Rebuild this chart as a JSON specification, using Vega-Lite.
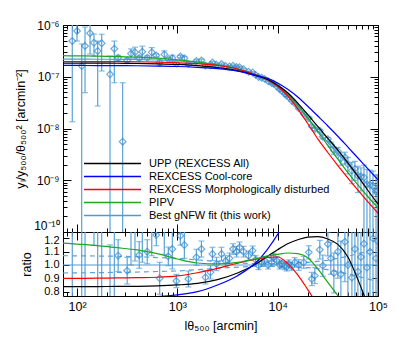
{
"$schema": "https://vega.github.io/schema/vega-lite/v6.json",
"padding": {"left": 14, "top": 18, "right": 5, "bottom": 5},
"datasets": {
"curves": [
{"m":"FIT","x":72.44,"y":2.19e-7},{"m":"FIT","x":100,"y":2.19e-7},{"m":"FIT","x":158.5,"y":2.18e-7},{"m":"FIT","x":251.2,"y":2.173e-7},{"m":"FIT","x":398.1,"y":2.153e-7},{"m":"FIT","x":631,"y":2.109e-7},{"m":"FIT","x":1000,"y":2.032e-7},{"m":"FIT","x":1585,"y":1.897e-7},{"m":"FIT","x":2512,"y":1.69e-7},{"m":"FIT","x":3981,"y":1.396e-7},{"m":"FIT","x":6310,"y":1.012e-7},{"m":"FIT","x":7943,"y":8.318e-8},{"m":"FIT","x":10000,"y":6.166e-8},{"m":"FIT","x":12589,"y":4.217e-8},{"m":"FIT","x":15849,"y":2.6e-8},{"m":"FIT","x":19953,"y":1.531e-8},{"m":"FIT","x":25119,"y":9.016e-9},{"m":"FIT","x":31623,"y":5.37e-9},{"m":"FIT","x":39811,"y":3.311e-9},{"m":"FIT","x":50119,"y":2.042e-9},{"m":"FIT","x":63096,"y":1.288e-9},{"m":"FIT","x":79433,"y":8.128e-10},{"m":"FIT","x":100000,"y":5.248e-10},
{"m":"PIPV","x":72.44,"y":2.549e-7},{"m":"PIPV","x":100,"y":2.532e-7},{"m":"PIPV","x":158.5,"y":2.496e-7},{"m":"PIPV","x":251.2,"y":2.455e-7},{"m":"PIPV","x":398.1,"y":2.396e-7},{"m":"PIPV","x":631,"y":2.288e-7},{"m":"PIPV","x":1000,"y":2.123e-7},{"m":"PIPV","x":1585,"y":1.925e-7},{"m":"PIPV","x":2512,"y":1.704e-7},{"m":"PIPV","x":3981,"y":1.424e-7},{"m":"PIPV","x":6310,"y":1.063e-7},{"m":"PIPV","x":7943,"y":8.884e-8},{"m":"PIPV","x":10000,"y":6.659e-8},{"m":"PIPV","x":12589,"y":4.597e-8},{"m":"PIPV","x":15849,"y":2.821e-8},{"m":"PIPV","x":19953,"y":1.615e-8},{"m":"PIPV","x":25119,"y":8.746e-9},{"m":"PIPV","x":31623,"y":4.672e-9},{"m":"PIPV","x":39811,"y":2.549e-9},{"m":"PIPV","x":50119,"y":1.409e-9},{"m":"PIPV","x":63096,"y":8.11e-10},{"m":"PIPV","x":79433,"y":4.8e-10},{"m":"PIPV","x":100000,"y":2.94e-10},
{"m":"MD","x":72.44,"y":1.969e-7},{"m":"MD","x":100,"y":1.969e-7},{"m":"MD","x":158.5,"y":1.964e-7},{"m":"MD","x":251.2,"y":1.962e-7},{"m":"MD","x":398.1,"y":1.948e-7},{"m":"MD","x":631,"y":1.915e-7},{"m":"MD","x":1000,"y":1.865e-7},{"m":"MD","x":1585,"y":1.787e-7},{"m":"MD","x":2512,"y":1.648e-7},{"m":"MD","x":3981,"y":1.414e-7},{"m":"MD","x":6310,"y":1.058e-7},{"m":"MD","x":7943,"y":8.8e-8},{"m":"MD","x":10000,"y":6.536e-8},{"m":"MD","x":12589,"y":4.268e-8},{"m":"MD","x":15849,"y":2.405e-8},{"m":"MD","x":19953,"y":1.248e-8},{"m":"MD","x":25119,"y":6.311e-9},{"m":"MD","x":31623,"y":3.437e-9},{"m":"MD","x":39811,"y":1.92e-9},{"m":"MD","x":50119,"y":1.103e-9},{"m":"MD","x":63096,"y":6.44e-10},{"m":"MD","x":79433,"y":3.82e-10},{"m":"MD","x":100000,"y":2.31e-10},
{"m":"UPP","x":72.44,"y":1.831e-7},{"m":"UPP","x":100,"y":1.831e-7},{"m":"UPP","x":158.5,"y":1.827e-7},{"m":"UPP","x":251.2,"y":1.823e-7},{"m":"UPP","x":398.1,"y":1.809e-7},{"m":"UPP","x":631,"y":1.778e-7},{"m":"UPP","x":1000,"y":1.727e-7},{"m":"UPP","x":1585,"y":1.635e-7},{"m":"UPP","x":2512,"y":1.504e-7},{"m":"UPP","x":3981,"y":1.312e-7},{"m":"UPP","x":6310,"y":1.027e-7},{"m":"UPP","x":7943,"y":8.859e-8},{"m":"UPP","x":10000,"y":6.875e-8},{"m":"UPP","x":12589,"y":4.892e-8},{"m":"UPP","x":15849,"y":3.094e-8},{"m":"UPP","x":19953,"y":1.853e-8},{"m":"UPP","x":25119,"y":1.094e-8},{"m":"UPP","x":31623,"y":6.417e-9},{"m":"UPP","x":39811,"y":3.824e-9},{"m":"UPP","x":50119,"y":2.165e-9},{"m":"UPP","x":63096,"y":1.185e-9},{"m":"UPP","x":79433,"y":6.34e-10},{"m":"UPP","x":100000,"y":3.46e-10},
{"m":"CC","x":72.44,"y":1.652e-7},{"m":"CC","x":100,"y":1.652e-7},{"m":"CC","x":158.5,"y":1.646e-7},{"m":"CC","x":251.2,"y":1.643e-7},{"m":"CC","x":398.1,"y":1.632e-7},{"m":"CC","x":631,"y":1.609e-7},{"m":"CC","x":1000,"y":1.577e-7},{"m":"CC","x":1585,"y":1.518e-7},{"m":"CC","x":2512,"y":1.437e-7},{"m":"CC","x":3981,"y":1.284e-7},{"m":"CC","x":6310,"y":1.042e-7},{"m":"CC","x":7943,"y":9.316e-8},{"m":"CC","x":10000,"y":7.584e-8},{"m":"CC","x":12589,"y":5.735e-8},{"m":"CC","x":15849,"y":4.07e-8},{"m":"CC","x":19953,"y":2.69e-8},{"m":"CC","x":25119,"y":1.74e-8},{"m":"CC","x":31623,"y":1.12e-8},{"m":"CC","x":39811,"y":7.08e-9},{"m":"CC","x":50119,"y":4.37e-9},{"m":"CC","x":63096,"y":2.69e-9},{"m":"CC","x":79433,"y":1.66e-9},{"m":"CC","x":100000,"y":1.02e-9}
],
"rcurves": [
{"m":"FIT","x":72.44,"r":1.0},{"m":"FIT","x":100000,"r":1.0},
{"m":"UPP","x":72.44,"r":0.837},{"m":"UPP","x":100,"r":0.837},{"m":"UPP","x":158.5,"r":0.838},{"m":"UPP","x":251.2,"r":0.839},{"m":"UPP","x":398.1,"r":0.84},{"m":"UPP","x":631,"r":0.843},{"m":"UPP","x":1000,"r":0.85},{"m":"UPP","x":1585,"r":0.862},{"m":"UPP","x":2512,"r":0.89},{"m":"UPP","x":3981,"r":0.94},{"m":"UPP","x":6310,"r":1.015},{"m":"UPP","x":7943,"r":1.065},{"m":"UPP","x":10000,"r":1.115},{"m":"UPP","x":12589,"r":1.16},{"m":"UPP","x":15849,"r":1.19},{"m":"UPP","x":19953,"r":1.21},{"m":"UPP","x":25119,"r":1.213},{"m":"UPP","x":31623,"r":1.195},{"m":"UPP","x":39811,"r":1.155},{"m":"UPP","x":50119,"r":1.06},{"m":"UPP","x":63096,"r":0.89},{"m":"UPP","x":79433,"r":0.7},{"m":"UPP","x":100000,"r":0.55},
{"m":"CC","x":72.44,"r":0.755},{"m":"CC","x":100,"r":0.755},{"m":"CC","x":158.5,"r":0.755},{"m":"CC","x":251.2,"r":0.756},{"m":"CC","x":398.1,"r":0.758},{"m":"CC","x":631,"r":0.763},{"m":"CC","x":1000,"r":0.776},{"m":"CC","x":1585,"r":0.8},{"m":"CC","x":2512,"r":0.85},{"m":"CC","x":3981,"r":0.92},{"m":"CC","x":6310,"r":1.03},{"m":"CC","x":7943,"r":1.12},{"m":"CC","x":10000,"r":1.23},{"m":"CC","x":12589,"r":1.36},
{"m":"MD","x":72.44,"r":0.9},{"m":"MD","x":100,"r":0.9},{"m":"MD","x":158.5,"r":0.901},{"m":"MD","x":251.2,"r":0.903},{"m":"MD","x":398.1,"r":0.905},{"m":"MD","x":631,"r":0.908},{"m":"MD","x":1000,"r":0.918},{"m":"MD","x":1585,"r":0.942},{"m":"MD","x":2512,"r":0.975},{"m":"MD","x":3981,"r":1.013},{"m":"MD","x":6310,"r":1.045},{"m":"MD","x":7943,"r":1.058},{"m":"MD","x":10000,"r":1.06},{"m":"MD","x":12589,"r":1.012},{"m":"MD","x":15849,"r":0.925},{"m":"MD","x":19953,"r":0.815},{"m":"MD","x":25119,"r":0.7},{"m":"MD","x":31623,"r":0.6},
{"m":"PIPV","x":72.44,"r":1.165},{"m":"PIPV","x":100,"r":1.157},{"m":"PIPV","x":158.5,"r":1.145},{"m":"PIPV","x":251.2,"r":1.13},{"m":"PIPV","x":398.1,"r":1.113},{"m":"PIPV","x":631,"r":1.085},{"m":"PIPV","x":1000,"r":1.045},{"m":"PIPV","x":1585,"r":1.015},{"m":"PIPV","x":2512,"r":1.008},{"m":"PIPV","x":3981,"r":1.02},{"m":"PIPV","x":6310,"r":1.05},{"m":"PIPV","x":7943,"r":1.068},{"m":"PIPV","x":10000,"r":1.08},{"m":"PIPV","x":12589,"r":1.09},{"m":"PIPV","x":15849,"r":1.085},{"m":"PIPV","x":19953,"r":1.055},{"m":"PIPV","x":25119,"r":0.97},{"m":"PIPV","x":31623,"r":0.87},{"m":"PIPV","x":39811,"r":0.77},{"m":"PIPV","x":50119,"r":0.67}
],
"band": [
{"s":"u","x":72.44,"r":1.07},{"s":"u","x":316.2,"r":1.065},{"s":"u","x":1000,"r":1.05},{"s":"u","x":3162,"r":1.02},{"s":"u","x":6310,"r":1.008},{"s":"u","x":10000,"r":1.01},{"s":"u","x":19953,"r":1.02},{"s":"u","x":31623,"r":1.035},{"s":"u","x":50119,"r":1.065},{"s":"u","x":70795,"r":1.095},{"s":"u","x":100000,"r":1.13},
{"s":"l","x":72.44,"r":0.94},{"s":"l","x":316.2,"r":0.945},{"s":"l","x":1000,"r":0.955},{"s":"l","x":3162,"r":0.98},{"s":"l","x":6310,"r":0.992},{"s":"l","x":10000,"r":0.99},{"s":"l","x":19953,"r":0.98},{"s":"l","x":31623,"r":0.965},{"s":"l","x":50119,"r":0.935},{"s":"l","x":70795,"r":0.905},{"s":"l","x":100000,"r":0.875}
],
"pts": [
{"x":89.7,"y":4.91e-7,"ylo":1.35e-8,"yhi":3e-6,"r":2.244,"rlo":0.062,"rhi":14},
{"x":100,"y":7.66e-7,"ylo":4.9e-7,"yhi":1.26e-6,"r":3.5,"rlo":2.24,"rhi":5.75},
{"x":111.4,"y":1.614e-7,"ylo":1e-12,"yhi":4.3e-7,"r":0.738,"rlo":0.01,"rhi":1.963},
{"x":120.2,"y":3.93e-7,"ylo":4.92e-8,"yhi":9.12e-7,"r":1.795,"rlo":0.225,"rhi":4.17},
{"x":134.9,"y":6.92e-7,"ylo":2.75e-7,"yhi":1.26e-6,"r":3.16,"rlo":1.26,"rhi":5.75},
{"x":147.6,"y":4.55e-7,"ylo":2.51e-7,"yhi":6.7e-7,"r":2.08,"rlo":1.148,"rhi":3.06},
{"x":160.7,"y":3.15e-7,"ylo":2.72e-8,"yhi":4.9e-7,"r":1.439,"rlo":0.1245,"rhi":2.24},
{"x":176.2,"y":4.43e-7,"ylo":1.29e-7,"yhi":6.61e-7,"r":2.023,"rlo":0.59,"rhi":3.0},
{"x":213.3,"y":1.114e-7,"ylo":1e-12,"yhi":2.51e-7,"r":0.51,"rlo":0.01,"rhi":1.151},
{"x":235.5,"y":3.48e-7,"ylo":7.67e-8,"yhi":4.9e-7,"r":1.6,"rlo":0.352,"rhi":2.24},
{"x":285.1,"y":5.56e-9,"ylo":1e-12,"yhi":7.67e-8,"r":0.0256,"rlo":0.01,"rhi":0.353},
{"x":257.0,"y":2.324e-7,"ylo":2.063e-7,"yhi":2.585e-7,"r":1.07,"rlo":0.95,"rhi":1.19},
{"x":316.2,"y":2.070e-7,"ylo":1.854e-7,"yhi":2.286e-7,"r":0.957,"rlo":0.857,"rhi":1.057},
{"x":345.1,"y":2.807e-7,"ylo":2.159e-7,"yhi":3.454e-7,"r":1.30,"rlo":1.0,"rhi":1.6},
{"x":378.4,"y":2.974e-7,"ylo":2.220e-7,"yhi":3.728e-7,"r":1.38,"rlo":1.03,"rhi":1.73},
{"x":416.9,"y":2.309e-7,"ylo":2.094e-7,"yhi":2.524e-7,"r":1.075,"rlo":0.975,"rhi":1.175},
{"x":447.7,"y":3.040e-7,"ylo":2.184e-7,"yhi":3.897e-7,"r":1.42,"rlo":1.02,"rhi":1.82},
{"x":501.2,"y":2.343e-7,"ylo":2.151e-7,"yhi":2.535e-7,"r":1.10,"rlo":1.01,"rhi":1.19},
{"x":555.9,"y":2.968e-7,"ylo":2.268e-7,"yhi":3.668e-7,"r":1.40,"rlo":1.07,"rhi":1.73},
{"x":616.6,"y":2.585e-7,"ylo":2.416e-7,"yhi":2.754e-7,"r":1.225,"rlo":1.145,"rhi":1.305},
{"x":666.8,"y":1.889e-7,"ylo":1.637e-7,"yhi":2.141e-7,"r":0.90,"rlo":0.78,"rhi":1.02},
{"x":741.3,"y":2.707e-7,"ylo":2.249e-7,"yhi":3.165e-7,"r":1.30,"rlo":1.08,"rhi":1.52},
{"x":812.8,"y":2.200e-7,"ylo":2.056e-7,"yhi":2.345e-7,"r":1.065,"rlo":0.995,"rhi":1.135},
{"x":891.3,"y":2.297e-7,"ylo":1.989e-7,"yhi":2.605e-7,"r":1.12,"rlo":0.97,"rhi":1.27},
{"x":977.2,"y":1.792e-7,"ylo":1.690e-7,"yhi":1.893e-7,"r":0.88,"rlo":0.83,"rhi":0.93},
{"x":1071.5,"y":2.455e-7,"ylo":2.314e-7,"yhi":2.595e-7,"r":1.22,"rlo":1.15,"rhi":1.29},
{"x":1174.9,"y":2.282e-7,"ylo":2.083e-7,"yhi":2.480e-7,"r":1.15,"rlo":1.05,"rhi":1.25},
{"x":1288.2,"y":1.752e-7,"ylo":1.634e-7,"yhi":1.869e-7,"r":0.895,"rlo":0.835,"rhi":0.955},
{"x":1548.8,"y":2.013e-7,"ylo":1.899e-7,"yhi":2.128e-7,"r":1.058,"rlo":0.998,"rhi":1.118},
{"x":1737.8,"y":2.076e-7,"ylo":1.965e-7,"yhi":2.188e-7,"r":1.12,"rlo":1.06,"rhi":1.18},
{"x":1905.5,"y":1.643e-7,"ylo":1.552e-7,"yhi":1.733e-7,"r":0.907,"rlo":0.857,"rhi":0.957},
{"x":2138.0,"y":1.663e-7,"ylo":1.575e-7,"yhi":1.751e-7,"r":0.945,"rlo":0.895,"rhi":0.995},
{"x":2238.7,"y":1.884e-7,"ylo":1.797e-7,"yhi":1.971e-7,"r":1.083,"rlo":1.033,"rhi":1.133},
{"x":2454.7,"y":1.715e-7,"ylo":1.630e-7,"yhi":1.800e-7,"r":1.008,"rlo":0.958,"rhi":1.058},
{"x":2754.2,"y":1.762e-7,"ylo":1.681e-7,"yhi":1.843e-7,"r":1.083,"rlo":1.033,"rhi":1.133},
{"x":3020.0,"y":1.613e-7,"ylo":1.550e-7,"yhi":1.676e-7,"r":1.03,"rlo":0.99,"rhi":1.07},
{"x":3311.3,"y":1.582e-7,"ylo":1.522e-7,"yhi":1.643e-7,"r":1.05,"rlo":1.01,"rhi":1.09},
{"x":3589.2,"y":1.633e-7,"ylo":1.575e-7,"yhi":1.691e-7,"r":1.12,"rlo":1.08,"rhi":1.16},
{"x":3890.5,"y":1.551e-7,"ylo":1.495e-7,"yhi":1.607e-7,"r":1.10,"rlo":1.06,"rhi":1.14},
{"x":4168.7,"y":1.532e-7,"ylo":1.478e-7,"yhi":1.586e-7,"r":1.133,"rlo":1.093,"rhi":1.173},
{"x":4570.9,"y":1.395e-7,"ylo":1.344e-7,"yhi":1.446e-7,"r":1.10,"rlo":1.06,"rhi":1.14},
{"x":5128.6,"y":1.251e-7,"ylo":1.210e-7,"yhi":1.292e-7,"r":1.07,"rlo":1.035,"rhi":1.105},
{"x":5623.4,"y":1.214e-7,"ylo":1.176e-7,"yhi":1.253e-7,"r":1.108,"rlo":1.073,"rhi":1.143},
{"x":6025.6,"y":1.087e-7,"ylo":1.055e-7,"yhi":1.118e-7,"r":1.04,"rlo":1.01,"rhi":1.07},
{"x":6456.5,"y":9.870e-8,"ylo":9.573e-8,"yhi":1.017e-7,"r":0.995,"rlo":0.965,"rhi":1.025},
{"x":6918.3,"y":9.541e-8,"ylo":9.260e-8,"yhi":9.822e-8,"r":1.02,"rlo":0.99,"rhi":1.05},
{"x":7413.1,"y":9.113e-8,"ylo":8.848e-8,"yhi":9.378e-8,"r":1.033,"rlo":1.003,"rhi":1.063},
{"x":8035.3,"y":8.195e-8,"ylo":7.949e-8,"yhi":8.441e-8,"r":1.0,"rlo":0.97,"rhi":1.03},
{"x":8709.6,"y":7.527e-8,"ylo":7.305e-8,"yhi":7.748e-8,"r":1.02,"rlo":0.99,"rhi":1.05},
{"x":9120.1,"y":7.353e-8,"ylo":7.145e-8,"yhi":7.562e-8,"r":1.058,"rlo":1.028,"rhi":1.088},
{"x":9772.4,"y":6.563e-8,"ylo":6.372e-8,"yhi":6.753e-8,"r":1.033,"rlo":1.003,"rhi":1.063},
{"x":10471,"y":5.715e-8,"ylo":5.544e-8,"yhi":5.886e-8,"r":1.0,"rlo":0.97,"rhi":1.03},
{"x":10965,"y":5.339e-8,"ylo":5.180e-8,"yhi":5.498e-8,"r":1.008,"rlo":0.978,"rhi":1.038},
{"x":11749,"y":4.702e-8,"ylo":4.561e-8,"yhi":4.844e-8,"r":0.995,"rlo":0.965,"rhi":1.025},
{"x":12303,"y":4.314e-8,"ylo":4.183e-8,"yhi":4.446e-8,"r":0.985,"rlo":0.955,"rhi":1.015},
{"x":12882,"y":4.050e-8,"ylo":3.930e-8,"yhi":4.171e-8,"r":1.008,"rlo":0.978,"rhi":1.038},
{"x":13804,"y":3.440e-8,"ylo":3.336e-8,"yhi":3.545e-8,"r":0.99,"rlo":0.96,"rhi":1.02},
{"x":14791,"y":3.066e-8,"ylo":2.961e-8,"yhi":3.171e-8,"r":1.02,"rlo":0.985,"rhi":1.055},
{"x":16218,"y":2.466e-8,"ylo":2.367e-8,"yhi":2.565e-8,"r":1.0,"rlo":0.96,"rhi":1.04},
{"x":18197,"y":1.930e-8,"ylo":1.845e-8,"yhi":2.015e-8,"r":1.02,"rlo":0.975,"rhi":1.065},
{"x":20417,"y":1.590e-8,"ylo":1.517e-8,"yhi":1.663e-8,"r":1.095,"rlo":1.045,"rhi":1.145},
{"x":21878,"y":1.109e-8,"ylo":1.047e-8,"yhi":1.171e-8,"r":0.895,"rlo":0.845,"rhi":0.945},
{"x":23442,"y":9.724e-9,"ylo":9.090e-9,"yhi":1.036e-8,"r":0.92,"rlo":0.86,"rhi":0.98},
{"x":26303,"y":9.063e-9,"ylo":8.494e-9,"yhi":9.632e-9,"r":1.115,"rlo":1.045,"rhi":1.185},
{"x":28184,"y":6.924e-9,"ylo":6.367e-9,"yhi":7.481e-9,"r":0.995,"rlo":0.915,"rhi":1.075},
{"x":31623,"y":6.218e-9,"ylo":5.735e-9,"yhi":6.702e-9,"r":1.158,"rlo":1.068,"rhi":1.248},
{"x":33884,"y":4.877e-9,"ylo":4.320e-9,"yhi":5.435e-9,"r":1.05,"rlo":0.93,"rhi":1.17},
{"x":36308,"y":3.777e-9,"ylo":3.174e-9,"yhi":4.380e-9,"r":0.94,"rlo":0.79,"rhi":1.09},
{"x":39811,"y":3.642e-9,"ylo":2.980e-9,"yhi":4.304e-9,"r":1.10,"rlo":0.90,"rhi":1.30},
{"x":42658,"y":2.664e-9,"ylo":1.948e-9,"yhi":3.380e-9,"r":0.93,"rlo":0.68,"rhi":1.18},
{"x":46774,"y":2.773e-9,"ylo":2.065e-9,"yhi":3.481e-9,"r":1.175,"rlo":0.875,"rhi":1.475},
{"x":50119,"y":2.042e-9,"ylo":1.327e-9,"yhi":2.757e-9,"r":1.0,"rlo":0.65,"rhi":1.35},
{"x":54954,"y":1.537e-9,"ylo":8.575e-10,"yhi":2.216e-9,"r":0.905,"rlo":0.505,"rhi":1.305},
{"x":58884,"y":1.656e-9,"ylo":9.909e-10,"yhi":2.322e-9,"r":1.12,"rlo":0.67,"rhi":1.57},
{"x":63096,"y":1.224e-9,"ylo":5.796e-10,"yhi":1.868e-9,"r":0.95,"rlo":0.45,"rhi":1.45},
{"x":67608,"y":1.189e-9,"ylo":6.171e-10,"yhi":1.739e-9,"r":1.06,"rlo":0.55,"rhi":1.55},
{"x":72444,"y":1.134e-9,"ylo":1e-11,"yhi":1.954e-9,"r":1.16,"rlo":0.01,"rhi":2.0},
{"x":77625,"y":8.341e-10,"ylo":1e-11,"yhi":1.617e-9,"r":0.98,"rlo":0.01,"rhi":1.9},
{"x":83176,"y":8.192e-10,"ylo":1e-11,"yhi":1.564e-9,"r":1.10,"rlo":0.01,"rhi":2.1},
{"x":89125,"y":7.837e-10,"ylo":1e-11,"yhi":1.502e-9,"r":1.20,"rlo":0.01,"rhi":2.3},
{"x":95499,"y":6.014e-10,"ylo":1e-11,"yhi":1.260e-9,"r":1.05,"rlo":0.01,"rhi":2.2},
{"x":98855,"y":6.330e-10,"ylo":1e-11,"yhi":1.287e-9,"r":1.18,"rlo":0.01,"rhi":2.4}
]
},
"vconcat": [
{
"width": 315, "height": 207,
"layer": [
{"data": {"name": "pts"},
 "mark": {"type": "errorbar", "ticks": {"size": 6}, "color": "#5aa2d8", "thickness": 1.2, "clip": true},
 "encoding": {
  "x": {"field": "x", "type": "quantitative", "scale": {"type": "log", "domain": [72.5, 100000], "nice": false}, "axis": null},
  "y": {"field": "ylo", "type": "quantitative", "scale": {"type": "log", "domain": [1e-10, 1e-6], "nice": false}, "axis": null},
  "y2": {"field": "yhi"}
 }},
{"data": {"name": "pts"},
 "mark": {"type": "point", "shape": "diamond", "filled": false, "size": 45, "strokeWidth": 1.2, "color": "#3388cc", "clip": true},
 "encoding": {
  "x": {"field": "x", "type": "quantitative", "scale": {"type": "log", "domain": [72.5, 100000], "nice": false},
        "axis": {"orient": "top", "values": [80,90,100,200,300,400,500,600,700,800,900,1000,2000,3000,4000,5000,6000,7000,8000,9000,10000,20000,30000,40000,50000,60000,70000,80000,90000,100000], "labels": false, "title": null,
                 "tickSize": {"condition": {"test": "datum.value==100||datum.value==1000||datum.value==10000||datum.value==100000", "value": -8}, "value": -4}}},
  "y": {"field": "y", "type": "quantitative", "scale": {"type": "log", "domain": [1e-10, 1e-6], "nice": false},
        "axis": {"orient": "right", "values": [1e-10,2e-10,3e-10,4e-10,5e-10,6e-10,7e-10,8e-10,9e-10,1e-9,2e-9,3e-9,4e-9,5e-9,6e-9,7e-9,8e-9,9e-9,1e-8,2e-8,3e-8,4e-8,5e-8,6e-8,7e-8,8e-8,9e-8,1e-7,2e-7,3e-7,4e-7,5e-7,6e-7,7e-7,8e-7,9e-7,1e-6], "labels": false, "title": null,
                 "tickSize": {"condition": {"test": "datum.value==1e-6||datum.value==1e-7||datum.value==1e-8||datum.value==1e-9||datum.value==1e-10", "value": -8}, "value": -4}}}
 }},
{"data": {"name": "curves"},
 "mark": {"type": "line", "strokeWidth": 1.2, "clip": true, "interpolate": "monotone"},
 "encoding": {
  "x": {"field": "x", "type": "quantitative", "scale": {"type": "log", "domain": [72.5, 100000], "nice": false},
        "axis": {"orient": "bottom", "values": [80,90,100,200,300,400,500,600,700,800,900,1000,2000,3000,4000,5000,6000,7000,8000,9000,10000,20000,30000,40000,50000,60000,70000,80000,90000,100000], "labels": false, "title": null,
                 "tickSize": {"condition": {"test": "datum.value==100||datum.value==1000||datum.value==10000||datum.value==100000", "value": -8}, "value": -4}}},
  "y": {"field": "y", "type": "quantitative", "scale": {"type": "log", "domain": [1e-10, 1e-6], "nice": false},
        "axis": {"orient": "left", "values": [1e-10,2e-10,3e-10,4e-10,5e-10,6e-10,7e-10,8e-10,9e-10,1e-9,2e-9,3e-9,4e-9,5e-9,6e-9,7e-9,8e-9,9e-9,1e-8,2e-8,3e-8,4e-8,5e-8,6e-8,7e-8,8e-8,9e-8,1e-7,2e-7,3e-7,4e-7,5e-7,6e-7,7e-7,8e-7,9e-7,1e-6],
                 "labelExpr": "datum.value==1e-6?'10⁻⁶':datum.value==1e-7?'10⁻⁷':datum.value==1e-8?'10⁻⁸':datum.value==1e-9?'10⁻⁹':datum.value==1e-10?'10⁻¹⁰':''",
                 "labelPadding": 12, "labelFlush": false, "labelOverlap": false, "labelFontSize": 12,
                 "labelOffset": {"condition": {"test": "datum.value==1e-10", "value": -7}, "value": 0},
                 "title": "yₗ/y₅₀₀/θ₅₀₀² [arcmin⁻²]", "titlePadding": 6,
                 "tickSize": {"condition": {"test": "datum.value==1e-6||datum.value==1e-7||datum.value==1e-8||datum.value==1e-9||datum.value==1e-10", "value": -8}, "value": -4}}},
  "color": {"field": "m", "type": "nominal",
            "scale": {"domain": ["UPP","CC","MD","PIPV","FIT"], "range": ["#000000","#0000ff","#ff0000","#1fa51f","#4f9ad4"]},
            "legend": {"orient": "none", "legendX": 20, "legendY": 133, "title": null, "symbolType": "stroke", "symbolSize": 3249, "symbolStrokeWidth": 1.3, "clipHeight": 11, "rowPadding": 1, "padding": 0, "labelFontSize": 11, "labelFont": "Liberation Sans", "labelColor": "#000", "labelOffset": 7, "labelLimit": 300,
                       "labelExpr": "datum.label=='UPP'?'UPP (REXCESS All)':datum.label=='CC'?'REXCESS Cool-core':datum.label=='MD'?'REXCESS Morphologically disturbed':datum.label=='PIPV'?'PIPV':'Best gNFW fit (this work)'"}}
 }}
],
"resolve": {"axis": {"x": "independent", "y": "independent"}}
},
{
"width": 315, "height": 64,
"layer": [
{"data": {"name": "band"},
 "mark": {"type": "line", "strokeDash": [5, 4], "color": "#5aa2d8", "strokeWidth": 1.2, "clip": true},
 "encoding": {
  "x": {"field": "x", "type": "quantitative", "scale": {"type": "log", "domain": [72.5, 100000], "nice": false}, "axis": null},
  "y": {"field": "r", "type": "quantitative", "scale": {"domain": [0.767, 1.248], "nice": false, "zero": false}, "axis": null},
  "detail": {"field": "s"}
 }},
{"data": {"name": "pts"},
 "mark": {"type": "errorbar", "ticks": {"size": 6}, "color": "#5aa2d8", "thickness": 1.2, "clip": true},
 "encoding": {
  "x": {"field": "x", "type": "quantitative", "scale": {"type": "log", "domain": [72.5, 100000], "nice": false}, "axis": null},
  "y": {"field": "rlo", "type": "quantitative", "scale": {"domain": [0.767, 1.248], "nice": false, "zero": false}, "axis": null},
  "y2": {"field": "rhi"}
 }},
{"data": {"name": "pts"},
 "mark": {"type": "point", "shape": "diamond", "filled": false, "size": 45, "strokeWidth": 1.2, "color": "#3388cc", "clip": true},
 "encoding": {
  "x": {"field": "x", "type": "quantitative", "scale": {"type": "log", "domain": [72.5, 100000], "nice": false},
        "axis": {"orient": "top", "values": [80,90,100,200,300,400,500,600,700,800,900,1000,2000,3000,4000,5000,6000,7000,8000,9000,10000,20000,30000,40000,50000,60000,70000,80000,90000,100000], "labels": false, "title": null,
                 "tickSize": {"condition": {"test": "datum.value==100||datum.value==1000||datum.value==10000||datum.value==100000", "value": -8}, "value": -4}}},
  "y": {"field": "r", "type": "quantitative", "scale": {"domain": [0.767, 1.248], "nice": false, "zero": false},
        "axis": {"orient": "right", "values": [0.8, 0.9, 1.0, 1.1, 1.2], "labels": false, "title": null, "tickSize": -6}}
 }},
{"data": {"name": "rcurves"},
 "mark": {"type": "line", "strokeWidth": 1.2, "clip": true, "interpolate": "monotone"},
 "encoding": {
  "x": {"field": "x", "type": "quantitative", "scale": {"type": "log", "domain": [72.5, 100000], "nice": false},
        "axis": {"orient": "bottom", "values": [80,90,100,200,300,400,500,600,700,800,900,1000,2000,3000,4000,5000,6000,7000,8000,9000,10000,20000,30000,40000,50000,60000,70000,80000,90000,100000],
                 "labelExpr": "datum.value==100?'10²':datum.value==1000?'10³':datum.value==10000?'10⁴':datum.value==100000?'10⁵':''",
                 "labelPadding": 12, "labelFlush": false, "labelOverlap": false,
                 "title": "lθ₅₀₀ [arcmin]", "titlePadding": 3,
                 "tickSize": {"condition": {"test": "datum.value==100||datum.value==1000||datum.value==10000||datum.value==100000", "value": -8}, "value": -4}}},
  "y": {"field": "r", "type": "quantitative", "scale": {"domain": [0.767, 1.248], "nice": false, "zero": false},
        "axis": {"orient": "left", "values": [0.8, 0.9, 1.0, 1.1, 1.2], "labelExpr": "format(datum.value, '.1f')", "labelPadding": 10, "labelFlush": false, "labelOverlap": false, "labelFontSize": 11,
                 "labelOffset": {"condition": {"test": "datum.value==1.2", "value": 2}, "value": 0},
                 "title": "ratio", "titlePadding": 10, "tickSize": -6}},
  "color": {"field": "m", "type": "nominal", "scale": {"domain": ["UPP","CC","MD","PIPV","FIT"], "range": ["#000000","#0000ff","#ff0000","#1fa51f","#4f9ad4"]}, "legend": null}
 }}
],
"resolve": {"axis": {"x": "independent", "y": "independent"}}
}
],
"spacing": 0,
"bounds": "flush",
"resolve": {"scale": {"x": "independent", "y": "independent", "color": "shared"}, "legend": {"color": "independent"}},
"config": {
 "view": {"stroke": "#000", "strokeWidth": 1},
 "font": "Liberation Sans",
 "axis": {"domain": false, "grid": false, "tickColor": "#000", "tickWidth": 1, "labelColor": "#000", "titleColor": "#000", "labelFont": "Liberation Sans", "titleFont": "Liberation Sans", "labelFontSize": 12.5, "titleFontSize": 12.5, "titleFontWeight": "normal"}
}
}
